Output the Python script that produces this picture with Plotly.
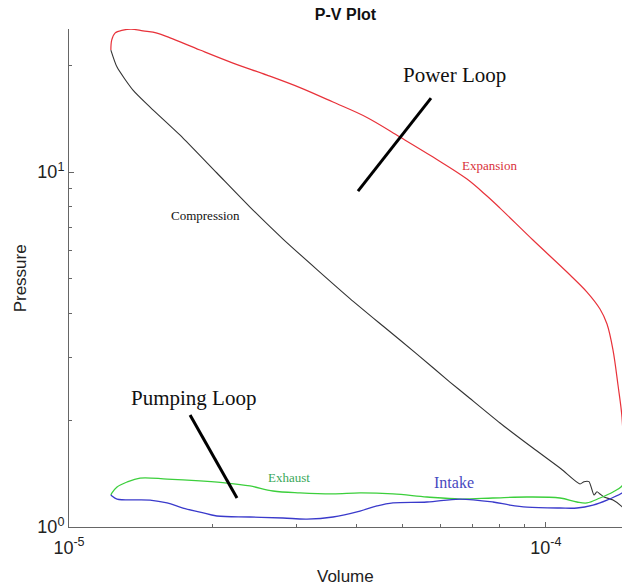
import math
import plotly.graph_objects as go

# ---------------- data ----------------
exp_v = [1.224e-5, 1.2289e-5, 1.2486e-5, 1.298e-5, 1.349e-5, 1.4295e-5, 1.5295e-5, 1.629e-5,
         1.882e-5, 2.2073e-5, 2.6008e-5, 3.05e-5, 3.577e-5, 4.214e-5, 4.943e-5, 5.798e-5,
         6.83e-5, 7.522e-5, 8.01e-5, 9.391e-5, 1.1066e-4, 1.219e-4, 1.298e-4, 1.3427e-4,
         1.3822e-4, 1.4158e-4, 1.4435e-4, 1.455e-4, 1.46e-4]
exp_p = [22.07, 23.54, 24.64, 25.12, 25.28, 25.0, 24.64, 23.89,
         22.07, 20.28, 18.76, 17.3, 15.75, 14.25, 12.55, 11.02,
         9.557, 8.559, 7.915, 6.434, 5.228, 4.592, 4.113, 3.731,
         3.151, 2.512, 2.04, 1.6, 1.35]

comp_v = [1.46e-4, 1.4435e-4, 1.3822e-4, 1.3233e-4, 1.298e-4, 1.2793e-4, 1.2609e-4, 1.2308e-4,
          1.2017e-4, 1.1786e-4, 1.0766e-4, 9.391e-5, 8.01e-5, 6.83e-5, 6.29e-5, 5.364e-5,
          4.553e-5, 3.882e-5, 3.311e-5, 2.81e-5, 2.396e-5, 2.042e-5, 1.734e-5, 1.479e-5,
          1.362e-5, 1.261e-5, 1.224e-5]
comp_p = [1.12, 1.141, 1.191, 1.215, 1.239, 1.257, 1.231, 1.342,
          1.342, 1.322, 1.457, 1.669, 1.963, 2.339, 2.561, 3.071,
          3.683, 4.402, 5.313, 6.475, 7.968, 9.94, 12.47, 15.24,
          17.02, 19.76, 22.07]

exh_v = [1.46e-4, 1.4435e-4, 1.3822e-4, 1.298e-4, 1.219e-4, 1.1614e-4, 1.07e-4, 9.125e-5,
         7.742e-5, 6.601e-5, 5.63e-5, 4.778e-5, 4.074e-5, 3.577e-5, 3.05e-5, 2.678e-5,
         2.396e-5, 2.144e-5, 1.882e-5, 1.6055e-5, 1.409e-5, 1.323e-5, 1.261e-5, 1.2306e-5,
         1.224e-5]
exh_p = [1.36, 1.305, 1.255, 1.207, 1.169, 1.176, 1.207, 1.215,
         1.207, 1.199, 1.215, 1.239, 1.247, 1.239, 1.247, 1.263,
         1.305, 1.330, 1.348, 1.365, 1.374, 1.339, 1.296, 1.247,
         1.231]

int_v = [1.224e-5, 1.2306e-5, 1.261e-5, 1.479e-5, 1.6055e-5, 1.734e-5, 1.882e-5, 2.042e-5,
         2.396e-5, 2.81e-5, 3.155e-5, 3.577e-5, 4.074e-5, 4.423e-5, 4.778e-5, 5.63e-5,
         6.601e-5, 7.742e-5, 8.406e-5, 9.125e-5, 1.07e-4, 1.1614e-4, 1.2548e-4, 1.3427e-4,
         1.4435e-4, 1.46e-4]
int_p = [1.231, 1.223, 1.199, 1.191, 1.169, 1.131, 1.102, 1.074,
         1.067, 1.060, 1.053, 1.067, 1.109, 1.146, 1.169, 1.176,
         1.199, 1.176, 1.153, 1.138, 1.131, 1.131, 1.153, 1.191,
         1.247, 1.26]

# pointer lines for the loop labels
power_ptr_v = [5.741e-5, 4.035e-5]
power_ptr_p = [16.16, 8.84]
pump_ptr_v = [1.794e-5, 2.25e-5]
pump_ptr_p = [2.068, 1.207]

x_range = [1e-5, 1.4435e-4]
y_range = [1.0, 25.3]
x_major = [1e-5, 1e-4]
x_major_text = ["10<sup>-5</sup>", "10<sup>-4</sup>"]
x_minor = [2e-5, 3e-5, 4e-5, 5e-5, 6e-5, 7e-5, 8e-5, 9e-5]
y_major = [1, 10]
y_major_text = ["10<sup>0</sup>", "10<sup>1</sup>"]
y_minor = [2, 3, 4, 5, 6, 7, 8, 9, 20]

# ---------------- figure ----------------
fig = go.Figure()
def curve(v, p, color, width, smooth=1.0):
    fig.add_trace(go.Scatter(x=v, y=p, mode="lines",
                             line=dict(color=color, width=width, shape="spline", smoothing=smooth)))

curve(exp_v, exp_p, "#e8323a", 1.2)
curve(comp_v, comp_p, "#333333", 1.1, 0.6)
curve(exh_v, exh_p, "#3ccf3c", 1.3)
curve(int_v, int_p, "#3a3acb", 1.3)
fig.add_trace(go.Scatter(x=power_ptr_v, y=power_ptr_p, mode="lines", line=dict(color="black", width=3)))
fig.add_trace(go.Scatter(x=pump_ptr_v, y=pump_ptr_p, mode="lines", line=dict(color="black", width=3)))

serif = "Liberation Serif, Times New Roman, serif"
sans = "Liberation Sans, Arial, sans-serif"

def ann(text, x, y, size, color):
    fig.add_annotation(text=text, x=x, y=y, xref="paper", yref="paper", showarrow=False,
                       font=dict(family=serif, size=size, color=color),
                       xanchor="center", yanchor="middle")

ann("Power Loop", 0.698, 0.9076, 21, "#111111")
ann("Expansion", 0.7613, 0.7249, 13, "#d8303a")
ann("Compression", 0.2477, 0.6245, 13, "#111111")
ann("Pumping Loop", 0.2260, 0.2590, 21, "#111111")
ann("Exhaust", 0.3978, 0.0984, 13, "#3aa85a")
ann("Intake", 0.6962, 0.0884, 16, "#4848c0")

# axis titles
fig.add_annotation(text="Volume", x=0.4991, y=-0.1, xref="paper", yref="paper", showarrow=False,
                   font=dict(family=sans, size=17, color="#222222"), xanchor="center", yanchor="middle")
fig.add_annotation(text="Pressure", x=-0.088, y=0.5, xref="paper", yref="paper", showarrow=False,
                   textangle=-90, font=dict(family=sans, size=17, color="#222222"),
                   xanchor="center", yanchor="middle")

axis_common = dict(type="log", showgrid=False, zeroline=False, showline=True,
                   linecolor="#666666", linewidth=1, ticks="inside", ticklen=5,
                   tickcolor="#666666", tickmode="array",
                   tickfont=dict(family=sans, size=18, color="#222222"))

fig.update_xaxes(range=[math.log10(x_range[0]), math.log10(x_range[1])],
                 tickvals=x_major, ticktext=x_major_text, ticklabelstandoff=4,
                 minor=dict(tickmode="array", tickvals=x_minor, ticks="inside", ticklen=3,
                            tickcolor="#666666"),
                 **axis_common)
fig.update_yaxes(range=[math.log10(y_range[0]), math.log10(y_range[1])],
                 tickvals=y_major, ticktext=y_major_text,
                 minor=dict(tickmode="array", tickvals=y_minor, ticks="inside", ticklen=3,
                            tickcolor="#666666"),
                 **axis_common)

fig.update_layout(
    width=622, height=586,
    margin=dict(l=69, r=0, t=29, b=59),
    plot_bgcolor="white", paper_bgcolor="white",
    showlegend=False,
    title=dict(text="<b>P-V Plot</b>", x=0.5555, xanchor="center", y=1 - 14 / 586, yanchor="middle",
               font=dict(family=sans, size=16, color="#111111")),
)

fig.write_html("out.html")
